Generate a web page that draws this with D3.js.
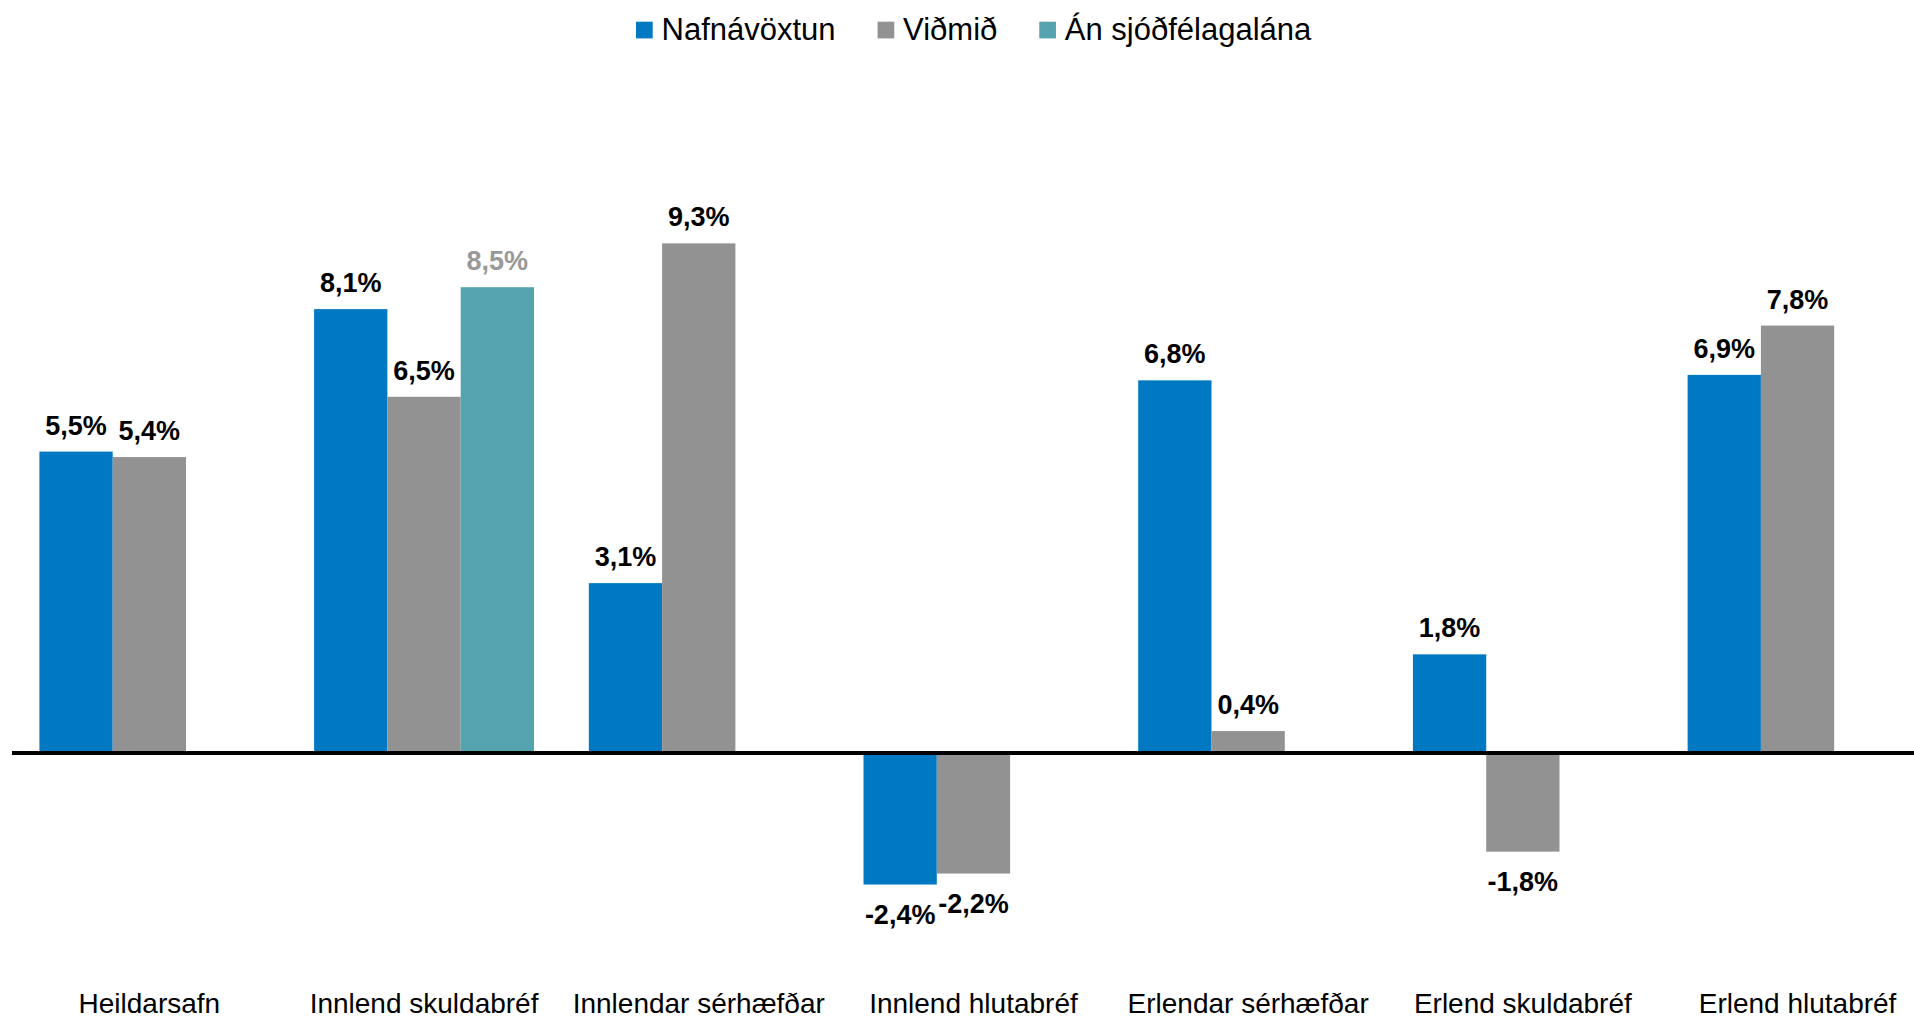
<!DOCTYPE html>
<html>
<head>
<meta charset="utf-8">
<script src="https://cdn.jsdelivr.net/npm/d3@7"></script>
<style>
  body { margin: 0; background: #fff; }
  svg { display: block; font-family: "Liberation Sans", Arial, sans-serif; }
</style>
</head>
<body>
<div class="chart"></div>
<script>
// Data
const categories = ['Heildarsafn', 'Innlend skuldabréf', 'Innlendar sérhæfðar', 'Innlend hlutabréf',
    'Erlendar sérhæfðar', 'Erlend skuldabréf', 'Erlend hlutabréf'];
const series = ['Nafnávöxtun', 'Viðmið', 'Án sjóðfélagalána'];
const nafnavoxtun = [5.5, 8.1, 3.1, -2.4, 6.8, 1.8, 6.9];
const vidmid = [5.4, 6.5, 9.3, -2.2, 0.4, -1.8, 7.8];
const anSjodfelagalana = [null, 8.5, null, null, null, null, null];

const colors = ['#0179c2', '#929292', '#55a3af'];
const labelColors = ['#000', '#000', '#999'];

// Sizes
const width = 1914;
const height = 1019;

const svg = d3.select('.chart').append('svg')
    .attr('width', width)
    .attr('height', height);

const values = [nafnavoxtun, vidmid, anSjodfelagalana];
const rows = [];
categories.forEach((c, i) => {
    series.forEach((s, j) => {
        if (values[j][i] !== null) rows.push({category: c, series: s, si: j, value: values[j][i]});
    });
});

// Scales
const xScale = d3.scaleBand()
    .domain(categories)
    .range([12, 12 + 7 * 274.7]);
const xSub = d3.scaleBand()
    .domain(series)
    .range([0, xScale.bandwidth()])
    .paddingOuter(0.374);
const yScale = d3.scaleLinear()
    .domain([-4, 10])
    .range([972.2, 205]);

const locale = d3.formatLocale({decimal: ',', thousands: '.', grouping: [3], currency: ['', ''], minus: '-'});
const fmt = v => locale.format('.1f')(v) + '%';

// Bars
svg.append('g')
    .selectAll('rect')
    .data(rows)
    .join('rect')
        .attr('x', d => xScale(d.category) + xSub(d.series))
        .attr('y', d => yScale(Math.max(0, d.value)))
        .attr('width', xSub.bandwidth())
        .attr('height', d => Math.abs(yScale(d.value) - yScale(0)))
        .attr('fill', d => colors[d.si]);

// Zero line
svg.append('line')
    .attr('x1', 12)
    .attr('x2', width)
    .attr('y1', yScale(0))
    .attr('y2', yScale(0))
    .attr('stroke', '#000')
    .attr('stroke-width', 4);

// Value labels
svg.append('g')
    .selectAll('text')
    .data(rows)
    .join('text')
        .attr('x', d => xScale(d.category) + xSub(d.series) + xSub.bandwidth() / 2)
        .attr('y', d => d.value >= 0 ? yScale(d.value) - 17 : yScale(d.value) + 39)
        .attr('text-anchor', 'middle')
        .style('font-size', '27px')
        .style('font-weight', 'bold')
        .attr('fill', d => labelColors[d.si])
        .text(d => fmt(d.value));

// Category labels
svg.append('g')
    .attr('transform', 'translate(0, 1013)')
    .call(d3.axisBottom(xScale).tickSize(0).tickPadding(0))
    .call(g => g.select('.domain').remove())
    .call(g => g.selectAll('text')
        .attr('y', 0)
        .attr('dy', null)
        .attr('fill', '#000')
        .style('font-size', '28px')
        .style('font-family', '"Liberation Sans", Arial, sans-serif'));

// Legend
const legend = svg.append('g').attr('transform', 'translate(636, 0)');
let lx = 0;
series.forEach((s, i) => {
    legend.append('rect')
        .attr('x', lx)
        .attr('y', 21.7)
        .attr('width', 16.7)
        .attr('height', 16.7)
        .attr('fill', colors[i]);
    const t = legend.append('text')
        .attr('x', lx + 25.5)
        .attr('y', 39.5)
        .style('font-size', '31px')
        .attr('fill', '#000')
        .text(s);
    lx += 25.5 + t.node().getComputedTextLength() + 42;
});
</script>
</body>
</html>
